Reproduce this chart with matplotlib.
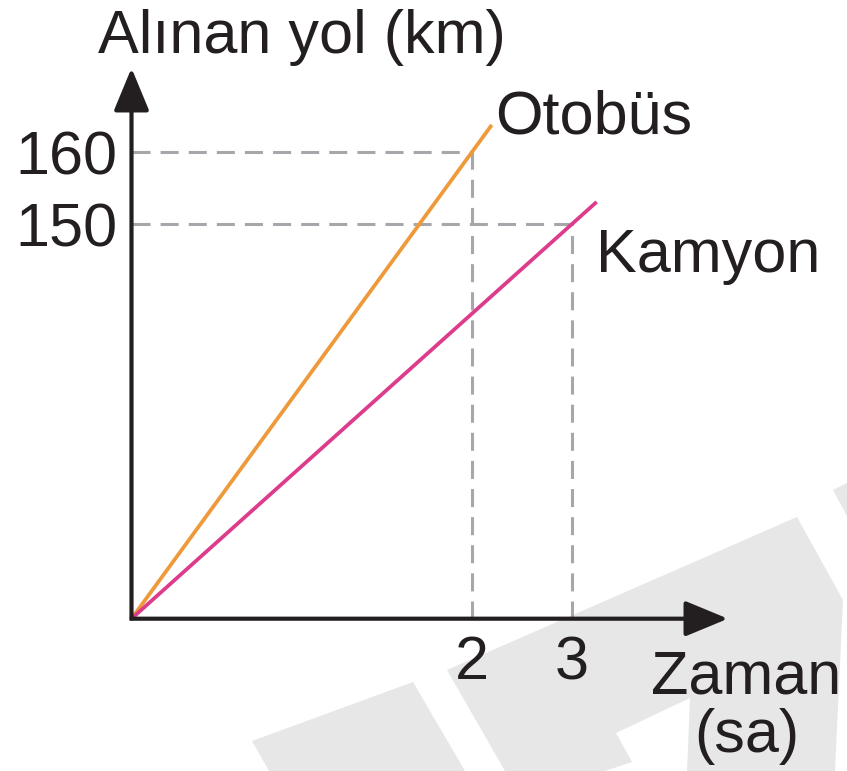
import numpy as np
import matplotlib
matplotlib.use("Agg")
import matplotlib.pyplot as plt
from matplotlib.patches import Polygon

plt.rcParams['font.family'] = ['Liberation Sans', 'DejaVu Sans']

# ---------------- data ----------------
otobus_t = [0, 2]
otobus_km = [0, 160]
kamyon_t = [0, 3]
kamyon_km = [0, 150]
x_ticks = [2, 3]
x_tick_labels = ['2', '3']
y_ticks = [150, 160]
y_tick_labels = ['150', '160']
y_label = 'Alınan yol (km)'
x_label = 'Zaman'
x_unit = '(sa)'
name_otobus = 'Otobüs'
name_kamyon = 'Kamyon'

# ---------------- layout / style ----------------
W, H = 847, 771
TXT = '#231F20'
ORANGE = '#EE9A3A'
PINK = '#DD3C8C'
GRID = '#A7A7AB'
WM = '#E7E7E7'
FS = 44

def fx(px):
    return px / W

def fy(py):
    return 1 - py / H

# schematic (non-proportional) axes: piecewise-linear scale anchors (pixel offsets)
X_ANCH_V, X_ANCH_P = [0, 2, 3], [0, 340.5, 440.5]
Y_ANCH_V, Y_ANCH_P = [0, 150, 160], [0, 394.7, 466.7]

def piecewise(xp, fp):
    xp = np.asarray(xp, float)
    fp = np.asarray(fp, float)
    s_lo = (fp[1] - fp[0]) / (xp[1] - xp[0])
    s_hi = (fp[-1] - fp[-2]) / (xp[-1] - xp[-2])

    def f(v):
        v = np.asarray(v, float)
        out = np.interp(v, xp, fp)
        out = np.where(v > xp[-1], fp[-1] + (v - xp[-1]) * s_hi, out)
        out = np.where(v < xp[0], fp[0] + (v - xp[0]) * s_lo, out)
        return out
    return f

fwd_x = piecewise(X_ANCH_V, X_ANCH_P)
inv_x = piecewise(X_ANCH_P, X_ANCH_V)
fwd_y = piecewise(Y_ANCH_V, Y_ANCH_P)
inv_y = piecewise(Y_ANCH_P, Y_ANCH_V)

ORIG = (131.5, 618.7)
TIP_X = 728.0
TIP_Y = 68.0

fig = plt.figure(figsize=(W / 100, H / 100), dpi=100)
fig.patch.set_facecolor('white')

# background watermark shapes (decorative)
wm_shapes = [
    [(252, 741), (413, 682), (465, 771), (269, 771)],
    [(447, 670), (797, 517), (843, 600), (835, 771), (687, 771), (690, 698),
     (616, 733), (632, 762), (605, 771), (505, 771)],
    [(833, 490), (847, 483), (847, 516)],
]
for shp in wm_shapes:
    fig.patches.append(Polygon([(fx(a), fy(b)) for a, b in shp], closed=True,
                               transform=fig.transFigure, facecolor=WM,
                               edgecolor='none', zorder=-5))

ax = fig.add_axes([fx(ORIG[0]), fy(ORIG[1]),
                   (TIP_X - ORIG[0]) / W, (ORIG[1] - TIP_Y) / H])
ax.set_zorder(2)
ax.patch.set_visible(False)
ax.set_xscale('function', functions=(fwd_x, inv_x))
ax.set_yscale('function', functions=(fwd_y, inv_y))
ax.set_xlim(0, float(inv_x(TIP_X - ORIG[0])))
ax.set_ylim(0, float(inv_y(ORIG[1] - TIP_Y)))
for s in ax.spines.values():
    s.set_visible(False)

# dashed guide lines
dash = (0, (5.9, 3.3))
for t, d in ((otobus_t[-1], otobus_km[-1]), (kamyon_t[-1], kamyon_km[-1])):
    ax.plot([0, t], [d, d], ls=dash, lw=2.2, color=GRID, zorder=1, clip_on=False)
    ax.plot([t, t], [0, d], ls=dash, lw=2.2, color=GRID, zorder=1, clip_on=False)

# data lines, drawn slightly past the labelled point
def extended(ts, ds, ext):
    sx = fwd_x(ts[-1]) * ext
    sy = fwd_y(ds[-1]) * ext
    return [ts[0], float(inv_x(sx))], [ds[0], float(inv_y(sy))]

ot, od = extended(otobus_t, otobus_km, 1.058)
kt, kd = extended(kamyon_t, kamyon_km, 1.056)
ax.plot(ot, od, color=ORANGE, lw=2.7, solid_capstyle='butt', zorder=2, clip_on=False)
ax.plot(kt, kd, color=PINK, lw=2.7, solid_capstyle='butt', zorder=3, clip_on=False)

# axis arrows
ap = dict(arrowstyle='-|>,head_length=1.33,head_width=0.55', mutation_scale=20,
          lw=3.0, color=TXT, shrinkA=0, shrinkB=0, capstyle='butt')
ax.annotate('', xy=(1, 0), xytext=(-0.003, 0), xycoords='axes fraction',
            arrowprops=ap, zorder=5, annotation_clip=False)
ax.annotate('', xy=(0, 1), xytext=(0, -0.003), xycoords='axes fraction',
            arrowprops=ap, zorder=5, annotation_clip=False)

# ticks
ax.set_xticks(x_ticks, labels=x_tick_labels)
ax.set_yticks(y_ticks, labels=y_tick_labels)
ax.tick_params(axis='x', length=0, pad=12.0, labelsize=FS, labelcolor=TXT)
ax.tick_params(axis='y', length=0, pad=10.0, labelsize=FS, labelcolor=TXT)
ax.minorticks_off()

# labels
fig.text(fx(98), fy(53), y_label, ha='left', va='baseline', fontsize=FS, color=TXT)
fig.text(fx(495), fy(134), name_otobus, ha='left', va='baseline', fontsize=FS, color=TXT)
fig.text(fx(596), fy(272), name_kamyon, ha='left', va='baseline', fontsize=FS, color=TXT)
fig.text(fx(651), fy(693), x_label, ha='left', va='baseline', fontsize=FS, color=TXT)
fig.text(fx(747), fy(752), x_unit, ha='center', va='baseline', fontsize=FS, color=TXT)

fig.savefig('out.png', dpi=100, facecolor='white')
